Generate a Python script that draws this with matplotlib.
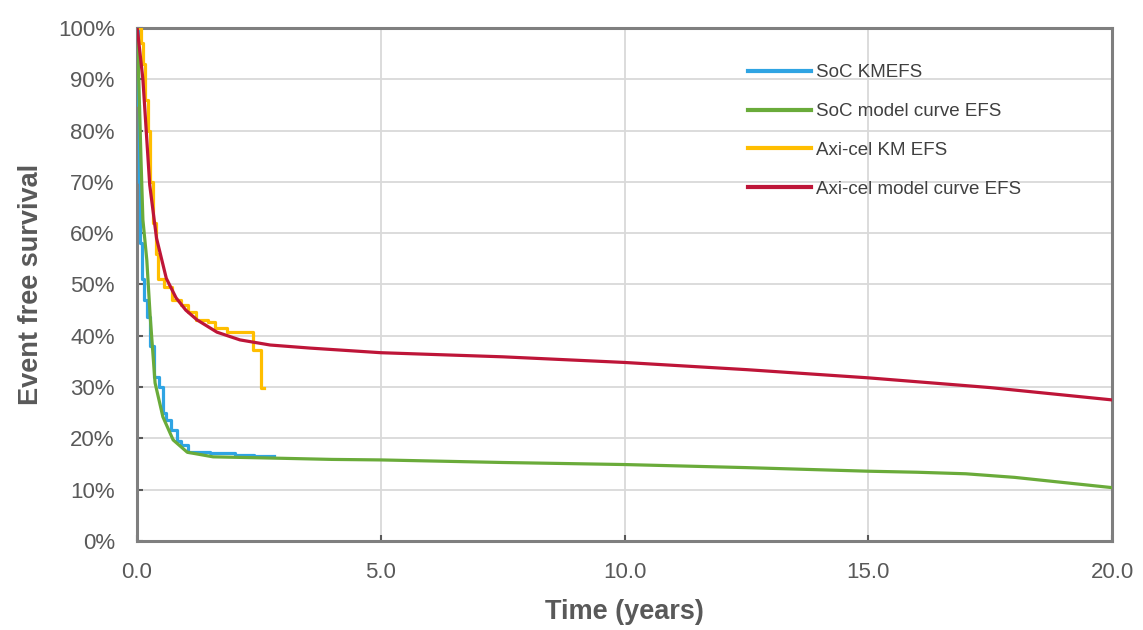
import matplotlib.pyplot as plt
from matplotlib.ticker import FuncFormatter

plt.rcParams['font.family'] = ['Liberation Sans', 'DejaVu Sans']

# Kaplan-Meier step data (years, % event free)
soc_km_t = [0, 0.02, 0.04, 0.06, 0.1, 0.15, 0.2, 0.27, 0.35, 0.45, 0.53, 0.6, 0.7,
            0.82, 0.9, 1.05, 1.5, 2.0, 2.4, 2.8]
soc_km_s = [100, 85, 70, 58, 51, 47, 43.7, 38, 32, 30, 25, 23.5, 21.6,
            19.5, 18.7, 17.3, 17.1, 16.8, 16.5, 16.5]

axi_km_t = [0, 0.08, 0.12, 0.17, 0.22, 0.27, 0.32, 0.38, 0.43, 0.55, 0.72, 0.9,
            1.05, 1.2, 1.45, 1.6, 1.85, 2.38, 2.55, 2.6]
axi_km_s = [100, 97, 93, 86, 80, 70, 62, 56, 51, 49.5, 47, 46,
            44.6, 43, 42.7, 41.5, 40.7, 37.2, 29.8, 29.8]

# Fitted model curves
soc_mod_t = [0, 0.02, 0.08, 0.12, 0.2, 0.27, 0.37, 0.53, 0.74, 1.03, 1.56, 2.58,
             4, 5, 7.5, 10, 12.5, 15, 16, 17, 18, 19, 20]
soc_mod_s = [100, 95, 74.7, 62.6, 54.8, 43.7, 30.8, 24.2, 19.7, 17.3, 16.4, 16.2,
             15.9, 15.8, 15.3, 14.9, 14.3, 13.6, 13.4, 13.1, 12.4, 11.4, 10.4]

axi_mod_t = [0, 0.02, 0.12, 0.19, 0.26, 0.4, 0.6, 0.8, 1.0, 1.23, 1.64, 2.11, 2.73,
             3.55, 5, 7.5, 10, 12.5, 15, 17.5, 20]
axi_mod_s = [100, 98.6, 90, 79.7, 69.4, 59, 51.2, 47.4, 45, 43.1, 40.7, 39.2, 38.2,
             37.6, 36.7, 35.9, 34.8, 33.4, 31.8, 29.9, 27.5]

x_ticks = [0, 5, 10, 15, 20]
y_ticks = list(range(0, 101, 10))

fig = plt.figure(figsize=(11.43, 6.3), dpi=100)
ax = fig.add_axes([0.1199, 0.1413, 0.853, 0.8143])

lw = 2.3
ax.plot(soc_km_t, soc_km_s, color='#2FA4E3', lw=lw, drawstyle='steps-post',
        label='SoC KMEFS', zorder=3)
ax.plot(soc_mod_t, soc_mod_s, color='#6AAB3A', lw=lw, label='SoC model curve EFS', zorder=4)
ax.plot(axi_km_t, axi_km_s, color='#FFBE00', lw=lw, drawstyle='steps-post',
        label='Axi-cel KM EFS', zorder=3)
ax.plot(axi_mod_t, axi_mod_s, color='#BE1538', lw=lw, label='Axi-cel model curve EFS', zorder=4)

ax.set_xlim(0, 20)
ax.set_ylim(0, 100)
ax.set_xticks(x_ticks)
ax.set_yticks(y_ticks)
ax.xaxis.set_major_formatter(FuncFormatter(lambda v, p: f'{v:.1f}'))
ax.yaxis.set_major_formatter(FuncFormatter(lambda v, p: f'{v:.0f}%'))
ax.grid(True, color='#D9D9D9', lw=1.3)
ax.set_axisbelow(True)

for s in ax.spines.values():
    s.set_color('#7F7F7F')
    s.set_linewidth(2.2)
ax.tick_params(direction='in', length=4, width=1.5, color='#595959',
               labelsize=16, labelcolor='#595959')
ax.tick_params(axis='x', pad=15)
ax.tick_params(axis='y', pad=16)

ax.set_xlabel('Time (years)', fontsize=19.5, fontweight='bold', color='#595959', labelpad=12)
ax.set_ylabel('Event free survival', fontsize=19.5, fontweight='bold', color='#595959', labelpad=10)

leg = ax.legend(loc='upper left', bbox_to_anchor=(0.609, 0.962), frameon=False,
                fontsize=13.5, handlelength=3.4, handletextpad=0.25, labelspacing=1.15)
for t in leg.get_texts():
    t.set_color('#404040')
for h in leg.get_lines():
    h.set_linewidth(3)

fig.savefig('out.png', dpi=100)
